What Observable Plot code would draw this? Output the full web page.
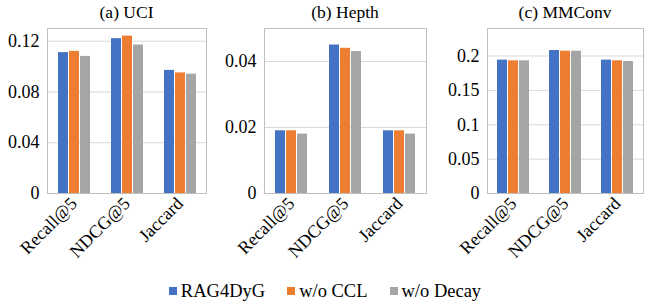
<!DOCTYPE html>
<html>
<head>
<meta charset="utf-8">
<script src="https://cdn.jsdelivr.net/npm/d3@7"></script>
<script src="https://cdn.jsdelivr.net/npm/@observablehq/plot@0.6"></script>
<style>body{margin:0;background:#fff}</style>
</head>
<body>
<div id="chart" style="position:relative;width:650px;height:303px;font-family:'Times New Roman';color:#000"></div>
<script>
const metrics = ["Recall@5", "NDCG@5", "Jaccard"];
const methods = ["RAG4DyG", "w/o CCL", "w/o Decay"];
const colors = ["#4472C4", "#ED7D31", "#A5A5A5"];

const titles = ["(a) UCI", "(b) Hepth", "(c) MMConv"];

// rows: metrics, columns: methods
const uciValues = [[0.111, 0.112, 0.108], [0.122, 0.124, 0.117], [0.097, 0.095, 0.094]];
const hepthValues = [[0.019, 0.019, 0.018], [0.045, 0.044, 0.043], [0.019, 0.019, 0.018]];
const mmconvValues = [[0.194, 0.193, 0.193], [0.208, 0.207, 0.207], [0.194, 0.193, 0.192]];

const uciTicks = [0, 0.04, 0.08, 0.12];
const hepthTicks = [0, 0.02, 0.04];
const mmconvTicks = [0, 0.05, 0.1, 0.15, 0.2];

const yMax = [0.13, 0.05, 0.24];

const layouts = [
  {left: 0, width: 215, ml: 46, mr: 8},
  {left: 215, width: 215, ml: 49, mr: 4},
  {left: 430, width: 220, ml: 57, mr: 7}
];

const FONT = "'Times New Roman'";

function panel(title, values, ticks, ymax, lay) {
  const data = metrics.flatMap((m, i) => methods.map((k, j) => ({metric: m, method: k, value: values[i][j]})));
  const svg = Plot.plot({
    width: lay.width, height: 262,
    marginLeft: lay.ml, marginRight: lay.mr, marginTop: 28, marginBottom: 69,
    style: {fontFamily: FONT, fontSize: "18px"},
    fx: {domain: metrics, padding: 0, label: null, axis: "bottom", tickRotate: -45, tickSize: 0, tickPadding: 7},
    x: {domain: methods, axis: null, paddingInner: 0.13, paddingOuter: 0.9},
    y: {domain: [0, ymax], ticks: ticks, tickFormat: d => d === 0 ? "0" : String(d), tickSize: 0, tickPadding: 8, label: null},
    color: {domain: methods, range: colors},
    marks: [
      Plot.gridY(ticks, {stroke: "#d9d9d9", strokeOpacity: 1}),
      Plot.barY(data, {fx: "metric", x: "method", y: "value", fill: "method"}),
      Plot.ruleY([0], {stroke: "#bfbfbf"}),
      Plot.frame({stroke: "#bfbfbf", facet: "super"})
    ]
  });
  const div = document.createElement("div");
  div.style.position = "absolute";
  div.style.left = lay.left + "px";
  div.style.top = "0px";
  div.style.width = lay.width + "px";
  div.style.height = "262px";
  const t = document.createElement("div");
  t.style.position = "absolute";
  t.style.top = "1px";
  t.style.left = lay.ml + "px";
  t.style.width = (lay.width - lay.ml - lay.mr) + "px";
  t.style.textAlign = "center";
  t.style.fontFamily = FONT;
  t.style.fontSize = "17.5px";
  t.style.lineHeight = "22px";
  t.textContent = title;
  div.appendChild(svg);
  div.appendChild(t);
  return div;
}

const chart = document.getElementById("chart");
const allValues = [uciValues, hepthValues, mmconvValues];
const allTicks = [uciTicks, hepthTicks, mmconvTicks];
for (let i = 0; i < 3; i++) chart.appendChild(panel(titles[i], allValues[i], allTicks[i], yMax[i], layouts[i]));

const legend = document.createElement("div");
legend.style.position = "absolute";
legend.style.left = "0px";
legend.style.top = "280px";
legend.style.width = "650px";
legend.style.display = "flex";
legend.style.justifyContent = "center";
legend.style.gap = "22px";
legend.style.fontFamily = FONT;
legend.style.fontSize = "18.5px";
legend.style.lineHeight = "22px";
methods.forEach((m, i) => {
  const it = document.createElement("div");
  it.style.display = "flex";
  it.style.alignItems = "center";
  it.style.gap = "4px";
  const sw = document.createElement("span");
  sw.style.width = "8px";
  sw.style.height = "8px";
  sw.style.display = "inline-block";
  sw.style.background = colors[i];
  const tx = document.createElement("span");
  tx.style.fontFamily = FONT;
  tx.textContent = m;
  it.appendChild(sw); it.appendChild(tx);
  legend.appendChild(it);
});
chart.appendChild(legend);
</script>
</body>
</html>
